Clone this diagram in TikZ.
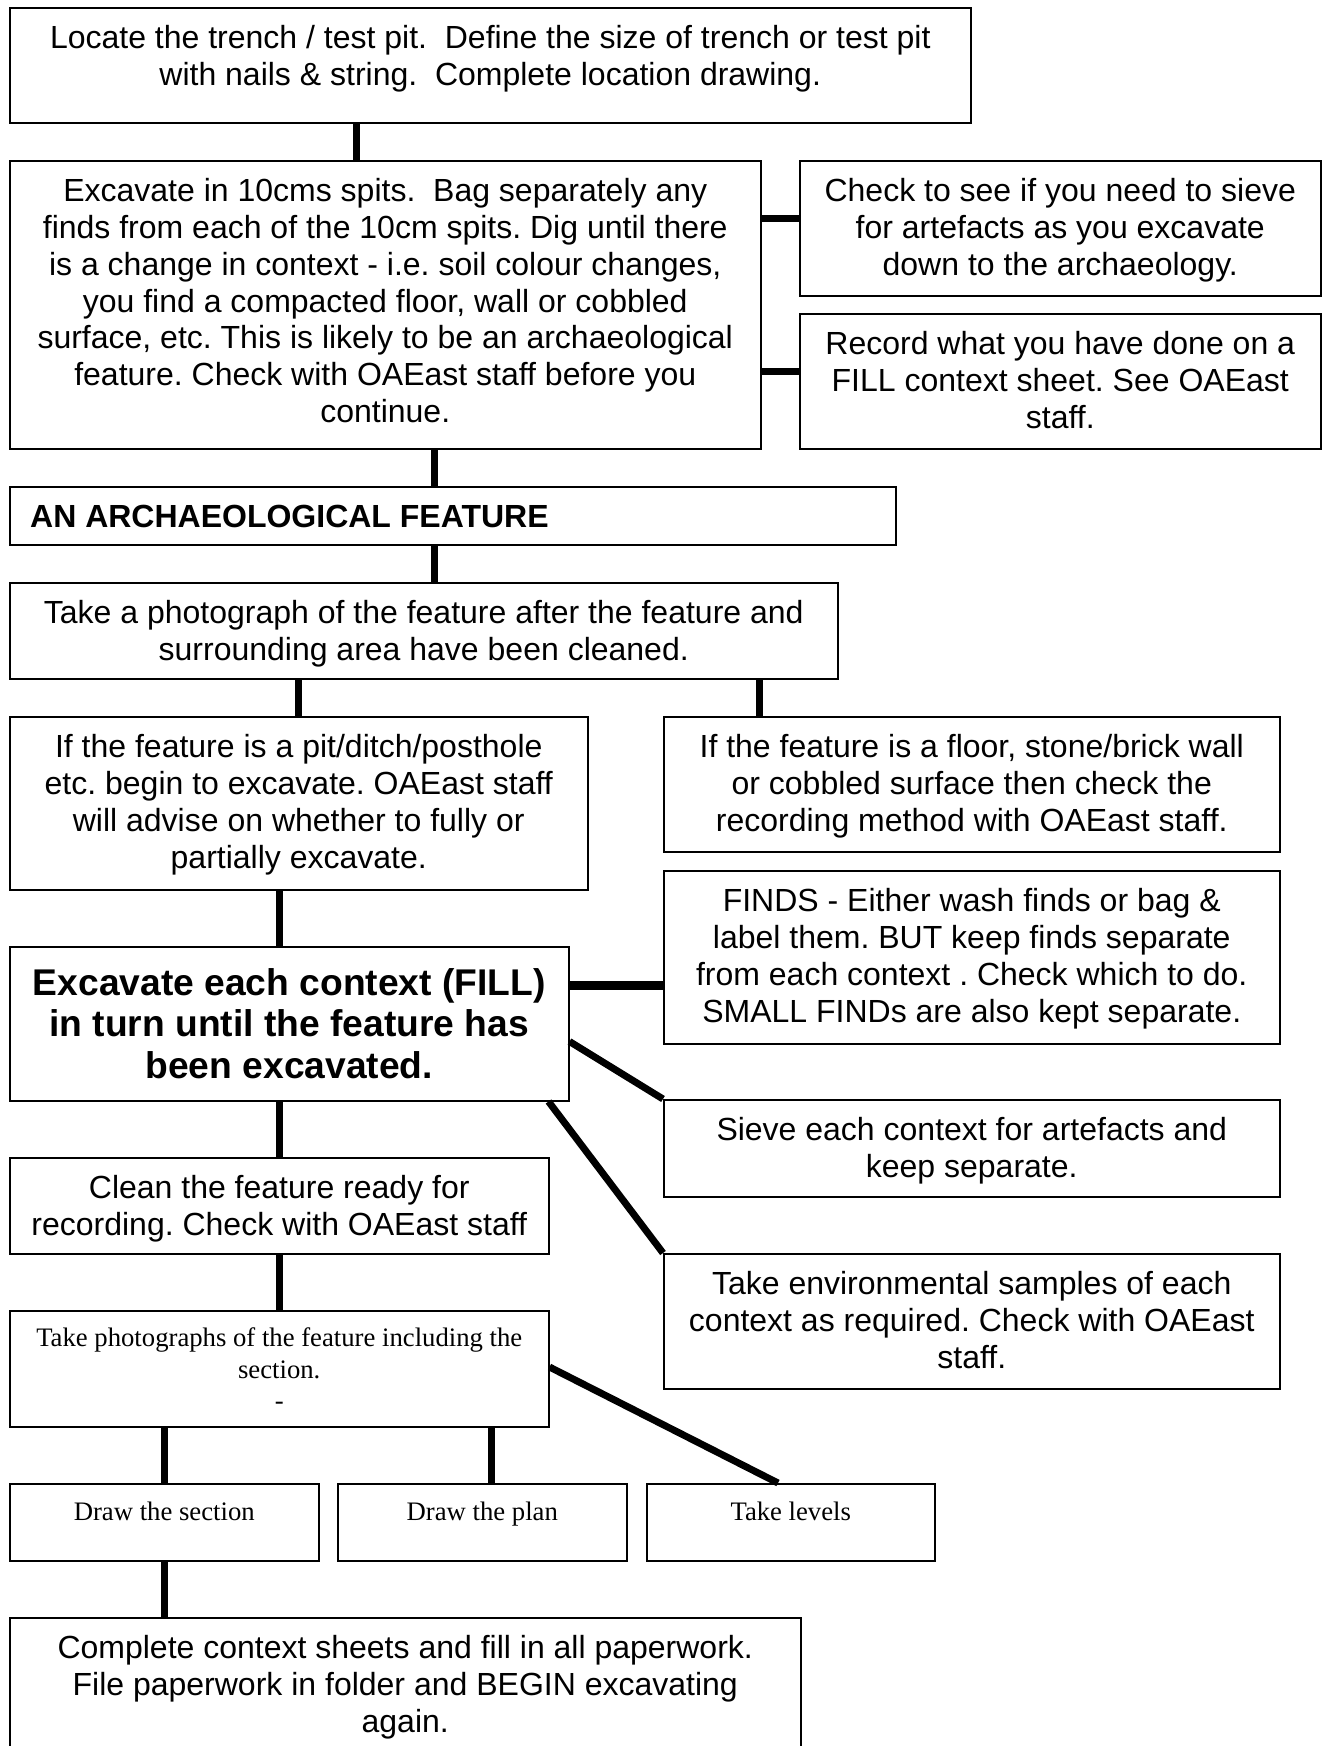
\documentclass[tikz,border=0pt]{standalone}
\usepackage{fontspec}
\setmainfont{Liberation Sans}
\newfontfamily\serifont{Liberation Serif}
\usetikzlibrary{calc}
\frenchspacing
\tikzset{
  box/.style={draw=black, line width=1.5pt, inner sep=0pt, anchor=north west},
  txt/.style={inner sep=0pt, anchor=north, align=center, font={\frenchspacing\fontsize{32}{36.8}\selectfont}},
  btxt/.style={inner sep=0pt, anchor=north, align=center, font={\frenchspacing\fontsize{37.2}{41.5}\selectfont\bfseries}},
  stxt/.style={inner sep=0pt, anchor=north, align=center, font={\frenchspacing\serifont\fontsize{26.7}{31.5}\selectfont}},
  conn/.style={line width=7pt, line cap=butt},
}
\begin{document}
\begin{tikzpicture}[x=1pt, y=-1pt]
\useasboundingbox (0,0) rectangle (1322,1746);
% boxes
\node[box, minimum width=961pt, minimum height=115pt] (b1) at (9,7) {};
\node[box, minimum width=751pt, minimum height=288pt] (b2) at (9,160) {};
\node[box, minimum width=521pt, minimum height=135pt] (b3) at (799,160) {};
\node[box, minimum width=521pt, minimum height=135pt] (b4) at (799,313) {};
\node[box, minimum width=886pt, minimum height=58pt] (b5) at (9,486) {};
\node[box, minimum width=828pt, minimum height=96pt] (b6) at (9,582) {};
\node[box, minimum width=578pt, minimum height=173pt] (b7) at (9,716) {};
\node[box, minimum width=616pt, minimum height=135pt] (b8) at (663,716) {};
\node[box, minimum width=616pt, minimum height=173pt] (b9) at (663,870) {};
\node[box, minimum width=559pt, minimum height=154pt] (b10) at (9,946) {};
\node[box, minimum width=616pt, minimum height=97pt] (b11) at (663,1099) {};
\node[box, minimum width=616pt, minimum height=135pt] (b12) at (663,1253) {};
\node[box, minimum width=539pt, minimum height=96pt] (b13) at (9,1157) {};
\node[box, minimum width=539pt, minimum height=116pt] (b14) at (9,1310) {};
\node[box, minimum width=309pt, minimum height=77pt] (b15) at (9,1483) {};
\node[box, minimum width=289pt, minimum height=77pt] (b16) at (337,1483) {};
\node[box, minimum width=288pt, minimum height=77pt] (b17) at (646,1483) {};
\node[box, minimum width=791pt, minimum height=143pt] (b18) at (9,1617) {};
% texts
\node[txt] (t1) at ($(b1.north)+(0,15.7)$) {\strut Locate the trench / test pit.\ \ Define the size of trench or test pit\\ with nails \& string.\ \ Complete location drawing.};
\node[txt] (t2) at ($(b2.north)+(0,15.7)$) {\strut Excavate in 10cms spits.\ \ Bag separately any\\ finds from each of the 10cm spits. Dig until there\\ is a change in context - i.e. soil colour changes,\\ you find a compacted floor, wall or cobbled\\ surface, etc. This is likely to be an archaeological\\ feature. Check with OAEast staff before you\\ continue.};
\node[txt] (t3) at ($(b3.north)+(0,15.7)$) {\strut Check to see if you need to sieve\\ for artefacts as you excavate\\ down to the archaeology.};
\node[txt] (t4) at ($(b4.north)+(0,15.7)$) {\strut Record what you have done on a\\ FILL context sheet. See OAEast\\ staff.};
\node[txt, anchor=north west, font={\fontsize{32}{36.8}\selectfont\bfseries}] (t5) at ($(b5.north west)+(21,16)$) {\strut AN ARCHAEOLOGICAL FEATURE};
\node[txt] (t6) at ($(b6.north)+(0,15.7)$) {\strut Take a photograph of the feature after the feature and\\ surrounding area have been cleaned.};
\node[txt] (t7) at ($(b7.north)+(0,15.7)$) {\strut If the feature is a pit/ditch/posthole\\ etc. begin to excavate. OAEast staff\\ will advise on whether to fully or\\ partially excavate.};
\node[txt] (t8) at ($(b8.north)+(0,15.7)$) {\strut If the feature is a floor, stone/brick wall\\ or cobbled surface then check the\\ recording method with OAEast staff.};
\node[txt] (t9) at ($(b9.north)+(0,15.7)$) {\strut FINDS - Either wash finds or bag \&\\ label them. BUT keep finds separate\\ from each context . Check which to do.\\ SMALL FINDs are also kept separate.};
\node[btxt] (t10) at ($(b10.north)+(0,20)$) {\strut Excavate each context (FILL)\\ in turn until the feature has\\ been excavated.};
\node[txt] (t11) at ($(b11.north)+(0,15.7)$) {\strut Sieve each context for artefacts and\\ keep separate.};
\node[txt] (t12) at ($(b12.north)+(0,15.7)$) {\strut Take environmental samples of each\\ context as required. Check with OAEast\\ staff.};
\node[txt] (t13) at ($(b13.north)+(0,15.7)$) {\strut Clean the feature ready for\\ recording. Check with OAEast staff};
\node[stxt] (t14) at ($(b14.north)+(0,14.5)$) {\strut Take photographs of the feature including the\\ section.\\ -};
\node[stxt] (t15) at ($(b15.north)+(0,15)$) {\strut Draw the section};
\node[stxt] (t16) at ($(b16.north)+(0,15)$) {\strut Draw the plan};
\node[stxt] (t17) at ($(b17.north)+(0,15)$) {\strut Take levels};
\node[txt] (t18) at ($(b18.north)+(0,15.7)$) {\strut Complete context sheets and fill in all paperwork.\\ File paperwork in folder and BEGIN excavating\\ again.};
% connector columns
\coordinate (xa) at (356,0);
\coordinate (xb) at (434,0);
\coordinate (xc) at (298,0);
\coordinate (xd) at (759,0);
\coordinate (xe) at (279,0);
\coordinate (xf) at (164,0);
\coordinate (xg) at (491,0);
\coordinate (ya) at (0,218);
\coordinate (yb) at (0,371);
\coordinate (yc) at (0,985);
% vertical connectors
\draw[conn] (b1.south -| xa) -- (b2.north -| xa);
\draw[conn] (b2.south -| xb) -- (b5.north -| xb);
\draw[conn] (b5.south -| xb) -- (b6.north -| xb);
\draw[conn] (b6.south -| xc) -- (b7.north -| xc);
\draw[conn] (b6.south -| xd) -- (b8.north -| xd);
\draw[conn] (b7.south -| xe) -- (b10.north -| xe);
\draw[conn] (b10.south -| xe) -- (b13.north -| xe);
\draw[conn] (b13.south -| xe) -- (b14.north -| xe);
\draw[conn] (b14.south -| xf) -- (b15.north -| xf);
\draw[conn] (b14.south -| xg) -- (b16.north -| xg);
\draw[conn] (b15.south -| xf) -- (b18.north -| xf);
% horizontal stubs
\draw[conn] (b2.east |- ya) -- (b3.west |- ya);
\draw[conn] (b2.east |- yb) -- (b4.west |- yb);
\draw[conn, line width=9pt] (b10.east |- yc) -- (b9.west |- yc);
% diagonals
\draw[conn] ($(b10.south east)+(0,-60)$) -- (b11.north west);
\draw[conn] ($(b10.south east)+(-21,0)$) -- (b12.north west);
\draw[conn] ($(b14.north east)+(0,57)$) -- ($(b17.north west)+(132,0)$);
\end{tikzpicture}
\end{document}
